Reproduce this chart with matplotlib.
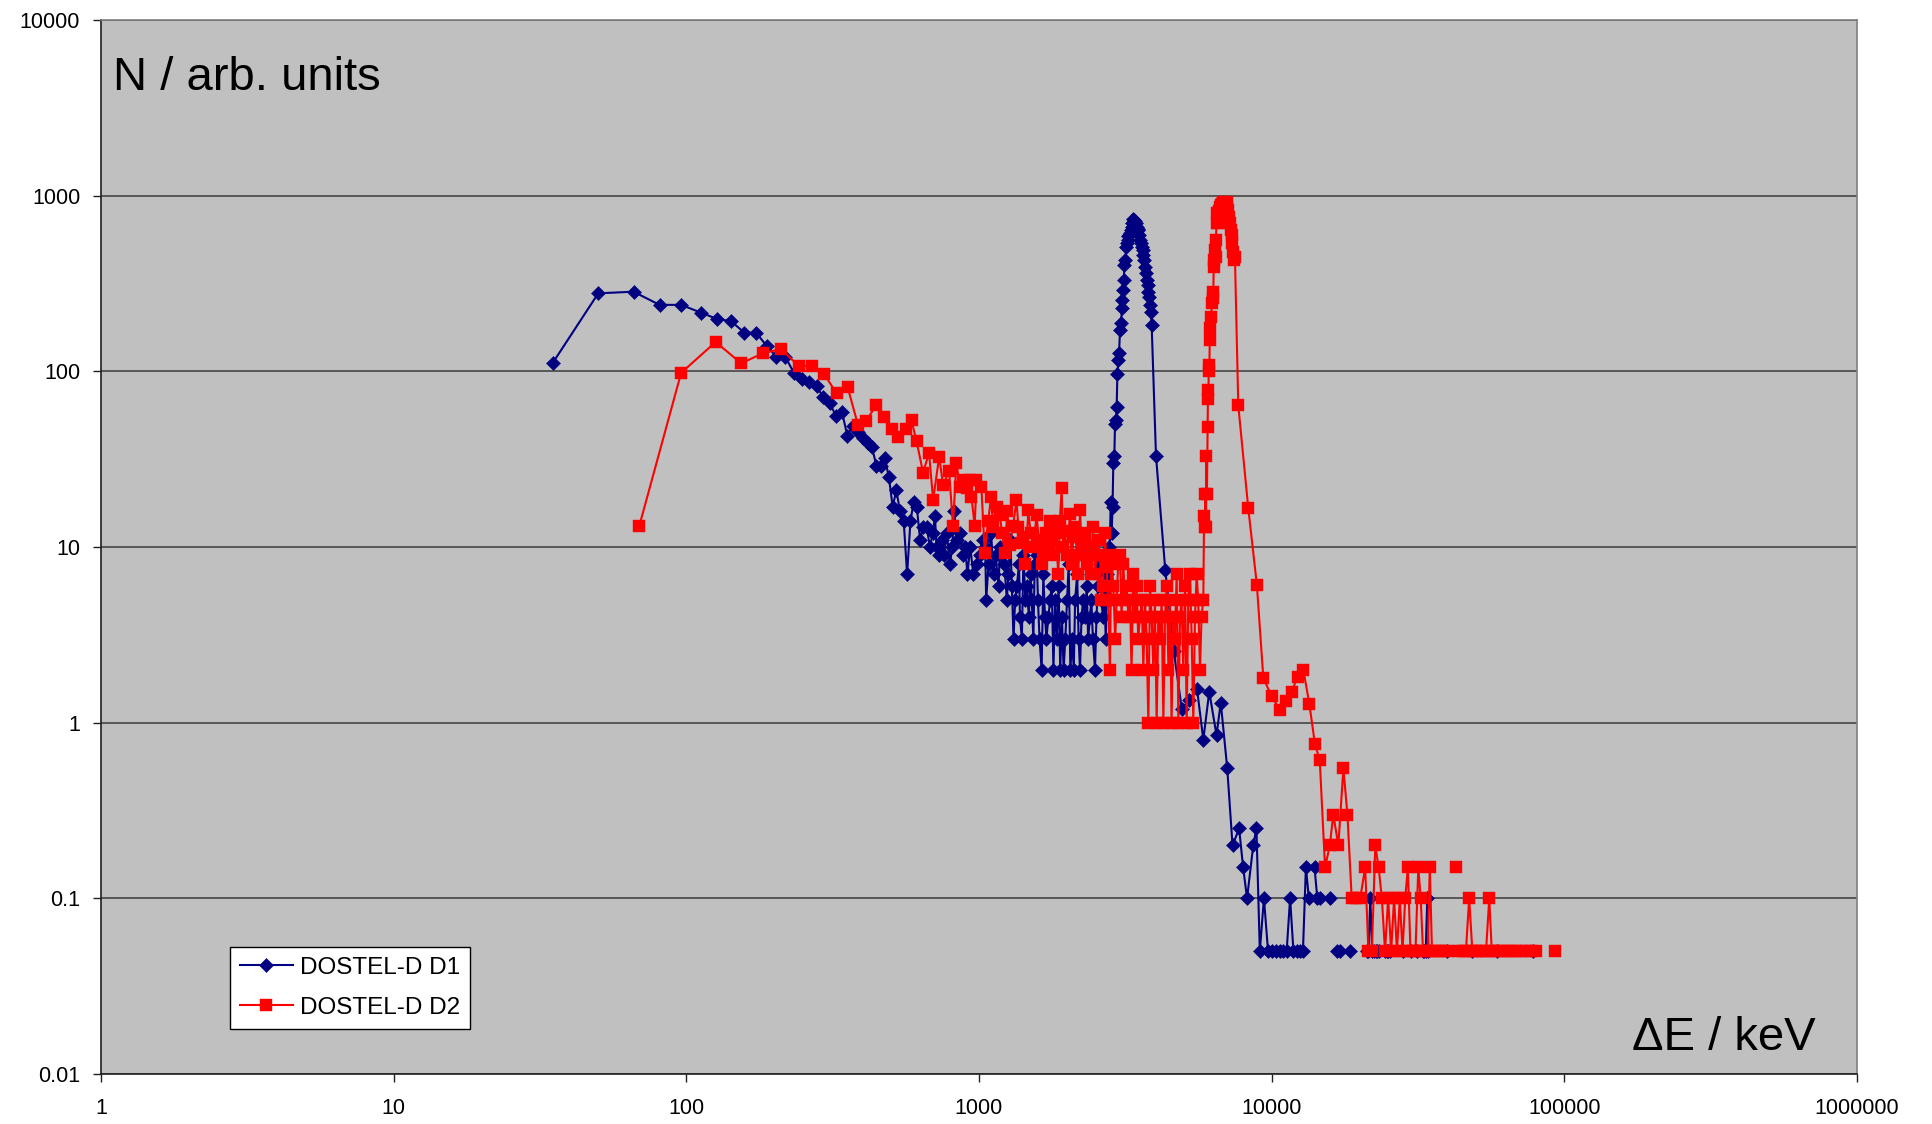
import numpy as np
import matplotlib
matplotlib.use("Agg")
import matplotlib.pyplot as plt
from matplotlib.ticker import NullLocator

plt.rcParams['font.family'] = ['Liberation Sans', 'DejaVu Sans']

# ---------------- data: (energy deposit keV, N arb. units); 0 = empty bin ----------------
d1_low_a = [(35, 112), (50, 278), (66, 284), (81, 239), (96, 239), (112, 216), (127, 199), (142, 193),
            (158, 166), (173, 166), (188, 140), (203, 121), (218, 121), (233, 98), (248, 91), (263, 87),
            (279, 82), (294, 71), (309, 66), (324, 56), (340, 59), (355, 43), (370, 49), (385, 45),
            (401, 42), (416, 39), (431, 37), (446, 29), (461, 29), (477, 32), (492, 25), (507, 17),
            (522, 21), (537, 16), (553, 14), (568, 7), (583, 14), (598, 18), (613, 17), (629, 11)]
d1_low_b = [(645, 13), (662, 13), (680, 10), (695, 12), (707, 15), (716, 10), (731, 9), (745, 11),
            (760, 9), (776, 12), (796, 8), (810, 10), (822, 16), (842, 11), (862, 12), (880, 9),
            (897, 10), (913, 7), (933, 10), (957, 7), (983, 8), (1009, 9), (1030, 11), (1050, 10),
            (1058, 5), (1078, 8), (1100, 12), (1121, 7), (1140, 9), (1166, 6), (1180, 10), (1197, 9),
            (1220, 8), (1245, 5), (1260, 7), (1280, 11), (1295, 6), (1312, 3), (1329, 5), (1347, 6),
            (1370, 8), (1380, 4), (1401, 3), (1419, 9), (1440, 5), (1457, 6), (1480, 4), (1500, 7),
            (1514, 5), (1534, 3), (1550, 8), (1575, 9), (1590, 5), (1610, 3), (1637, 2), (1659, 7),
            (1681, 4), (1700, 3), (1726, 4), (1750, 5), (1773, 6), (1796, 2), (1820, 5), (1845, 3),
            (1870, 6), (1895, 2), (1920, 4), (1946, 2), (1972, 3), (2000, 5), (2025, 8), (2052, 2),
            (2080, 3), (2108, 2), (2130, 5), (2165, 7), (2190, 3), (2214, 2), (2240, 4), (2270, 5),
            (2303, 4), (2334, 6), (2360, 3), (2396, 4), (2420, 5), (2450, 3), (2491, 2), (2520, 4),
            (2550, 6), (2590, 8), (2620, 5), (2650, 4), (2680, 6), (2710, 3), (2740, 7), (2770, 5)]
d1_peak = [(2790, 10), (2805, 12), (2818, 18), (2841, 12), (2860, 17), (2877, 30), (2900, 33),
           (2916, 50), (2939, 53), (2954, 63), (2970, 96), (2993, 116), (3010, 128), (3033, 172),
           (3060, 188), (3075, 230), (3089, 255), (3113, 290), (3125, 331), (3139, 403), (3165, 430),
           (3180, 512), (3196, 535), (3220, 560), (3239, 590), (3260, 600), (3281, 611), (3300, 640),
           (3324, 667), (3345, 700), (3368, 735), (3390, 730), (3412, 720), (3435, 700), (3458, 667),
           (3480, 650), (3503, 640), (3525, 600), (3549, 560), (3573, 540), (3597, 513), (3620, 490),
           (3644, 459), (3668, 430), (3692, 395), (3716, 365), (3741, 331), (3765, 310), (3790, 284),
           (3815, 265), (3840, 239), (3865, 219), (3890, 184)]
d1_high = [(4025, 33), (4330, 7.4), (4630, 2.55), (4930, 1.2), (5230, 1.35), (5560, 1.55), (5840, 0.8),
           (6120, 1.5), (6480, 0.85), (6700, 1.3), (7050, 0.55), (7350, 0.2), (7740, 0.25), (7990, 0.15),
           (8240, 0.1), (8650, 0.2), (8870, 0.25), (9110, 0.05), (9410, 0.1), (9720, 0.05), (10030, 0.05),
           (10330, 0.05), (10640, 0.05), (10950, 0.05), (11250, 0.05), (11560, 0.1), (11870, 0.05),
           (12170, 0.05), (12480, 0.05), (12790, 0.05), (13090, 0.15), (13400, 0.1), (13700, 0),
           (14010, 0.15), (14320, 0.1), (14620, 0.1), (14930, 0), (15540, 0), (15850, 0.1), (16160, 0),
           (16770, 0.05), (17080, 0.05), (17380, 0), (18520, 0.05), (18820, 0), (20810, 0),
           (21120, 0.05), (21420, 0.05), (21730, 0.1), (22040, 0.05), (22350, 0.05), (22650, 0.05),
           (22960, 0.05), (23270, 0.05), (23580, 0), (24090, 0), (24400, 0.05), (24700, 0.05),
           (25000, 0.05), (25380, 0.05), (25700, 0), (27860, 0), (28170, 0.05), (28470, 0), (29550, 0),
           (29860, 0.05), (30160, 0), (31000, 0), (31300, 0.05), (31600, 0), (32660, 0), (32970, 0.05),
           (33280, 0.05), (33600, 0.05), (34030, 0.1), (34340, 0.05), (34650, 0), (39330, 0),
           (39630, 0.05), (39930, 0), (47920, 0), (48220, 0.05), (48520, 0), (58410, 0), (58710, 0.05),
           (59010, 0), (77640, 0), (77940, 0.05)]

d2_low_a = [(69, 13.1), (96, 98), (126, 147), (154, 111), (183, 127), (211, 134), (242, 107), (269, 107),
            (295, 97), (326, 75), (356, 81), (386, 49.5), (411, 52), (445, 64), (473, 55), (503, 47),
            (527, 42.5), (561, 47), (588, 52.5), (612, 40), (644, 26.5), (675, 34.4), (697, 18.5),
            (731, 32.7), (754, 22.5), (790, 27.2), (815, 13.2), (837, 30.2), (860, 22), (882, 24),
            (910, 21.6), (935, 24), (942, 19.3), (967, 13.2), (980, 24), (1019, 21.9), (1046, 9.3),
            (1074, 14), (1100, 19.3), (1117, 13), (1150, 17), (1177, 15.2), (1200, 12), (1224, 9.2),
            (1250, 16), (1273, 10.2), (1308, 13.2), (1343, 18.5)]
d2_low_b = [(1363, 13), (1390, 10.5), (1410, 11.4), (1440, 8), (1475, 16.3), (1500, 12), (1530, 10),
            (1574, 15.2), (1600, 11), (1637, 8), (1659, 9.4), (1690, 12), (1720, 10), (1748, 14),
            (1780, 11), (1800, 9), (1830, 12), (1866, 7), (1889, 14), (1916, 21.6), (1940, 10),
            (1967, 12.3), (2000, 9), (2046, 15.5), (2075, 8), (2101, 11.4), (2130, 13), (2160, 9),
            (2186, 7), (2214, 16.3), (2240, 10), (2270, 12), (2302, 11.4), (2330, 8), (2360, 9),
            (2394, 10), (2420, 7), (2450, 13), (2491, 7), (2520, 9), (2550, 11), (2591, 9), (2620, 5),
            (2650, 6), (2694, 12), (2730, 7.7), (2760, 5), (2802, 2)]
d2_low_c = [(2830, 9), (2877, 6), (2920, 3), (2954, 5), (2990, 8), (3033, 9), (3070, 4), (3113, 8),
            (3150, 5), (3196, 6), (3240, 4), (3281, 5), (3320, 2), (3368, 7), (3410, 4), (3458, 6),
            (3500, 3), (3549, 4), (3600, 5), (3644, 2), (3690, 5), (3741, 3), (3790, 1), (3840, 6),
            (3890, 4), (3942, 2), (3990, 5), (4046, 1), (4100, 4), (4154, 3), (4210, 5), (4265, 1),
            (4320, 4), (4378, 6), (4440, 2), (4494, 5), (4550, 1), (4613, 4), (4670, 3), (4736, 7),
            (4800, 1), (4862, 4), (4920, 5), (4990, 2), (5060, 6), (5123, 1), (5190, 5), (5259, 7),
            (5330, 3), (5399, 1), (5470, 4), (5543, 7), (5610, 5), (5690, 2), (5760, 4), (5841, 5)]
d2_peak = [(5875, 15), (5905, 13), (5935, 20), (5966, 13), (5980, 33), (6010, 20), (6044, 48), (6060, 78),
           (6075, 70), (6100, 109), (6123, 100), (6152, 176), (6180, 150), (6210, 205), (6250, 244),
           (6280, 284), (6310, 260), (6340, 394), (6368, 430), (6400, 491), (6430, 450), (6451, 560),
           (6480, 696), (6520, 794), (6560, 700), (6600, 820), (6630, 780), (6658, 866), (6700, 880),
           (6740, 900), (6790, 850), (6833, 924), (6880, 910), (6920, 880), (6960, 900), (7015, 920),
           (7060, 850), (7112, 829), (7150, 760), (7200, 696), (7250, 637), (7295, 600), (7340, 535),
           (7390, 480), (7440, 430), (7490, 450)]
d2_high = [(7690, 64), (8320, 16.6), (8900, 6.1), (9365, 1.8), (10000, 1.41), (10680, 1.18), (11190, 1.32),
           (11700, 1.5), (12270, 1.83), (12830, 2.0), (13450, 1.28), (14050, 0.76), (14600, 0.61),
           (15220, 0.15), (15800, 0.2), (16240, 0.3), (16900, 0.2), (17580, 0.55), (18150, 0.3),
           (18770, 0.1), (19400, 0.1), (20070, 0.1), (20870, 0.15), (21400, 0.05), (22000, 0.05),
           (22600, 0.2), (23200, 0.15), (23800, 0.1), (24400, 0.05), (25000, 0.1), (25600, 0.05),
           (26200, 0.1), (26800, 0.05), (27400, 0.1), (28000, 0.05), (28600, 0.1), (29200, 0.15),
           (29800, 0.05), (30400, 0.05), (31000, 0.05), (31700, 0.15), (32300, 0.1), (32900, 0.05),
           (33500, 0.05), (34100, 0.05), (34700, 0.15), (35300, 0.05), (36500, 0.05), (37700, 0.05),
           (38900, 0.05), (40100, 0.05), (41300, 0), (42500, 0.15), (43100, 0), (43700, 0.05),
           (44900, 0.05), (46100, 0.05), (47300, 0.1), (48500, 0.05), (49700, 0.05), (51000, 0.05),
           (52500, 0.05), (54000, 0.05), (55400, 0.1), (56500, 0.05), (58000, 0.05), (60000, 0.05),
           (62000, 0.05), (64000, 0.05), (66000, 0.05), (68500, 0.05), (71000, 0.05), (74000, 0.05),
           (77000, 0.05), (80000, 0.05), (86000, 0), (92600, 0.05)]

series_labels = ["DOSTEL-D D1", "DOSTEL-D D2"]
x_ticks = [1, 10, 100, 1000, 10000, 100000, 1000000]
x_tick_labels = ["1", "10", "100", "1000", "10000", "100000", "1000000"]
y_ticks = [0.01, 0.1, 1, 10, 100, 1000, 10000]
y_tick_labels = ["0.01", "0.1", "1", "10", "100", "1000", "10000"]


def build(*segments):
    pts = [p for seg in segments for p in seg]
    e = np.array([p[0] for p in pts], dtype=float)
    n = np.array([p[1] for p in pts], dtype=float)
    n[n <= 0] = np.nan
    return e, n


e1, n1 = build(d1_low_a, d1_low_b, d1_peak, d1_high)
e2, n2 = build(d2_low_a, d2_low_b, d2_low_c, d2_peak, d2_high)

W, H = 1933, 1124
fig = plt.figure(figsize=(W / 100, H / 100), dpi=100)
fig.patch.set_facecolor('white')
ax = fig.add_axes([101 / W, 50 / H, 1756 / W, 1054 / H])
ax.set_facecolor('#C0C0C0')
ax.set_xscale('log')
ax.set_yscale('log')
ax.set_xlim(1, 1e6)
ax.set_ylim(0.01, 1e4)

ax.set_axisbelow(True)
ax.yaxis.grid(True, color='#3a3a3a', linewidth=1.1)
ax.xaxis.grid(False)

ax.plot(e1, n1, color='#000080', lw=1.5, marker='D', ms=7.0, mfc='#000080', mec='#000080', mew=0.4,
        label=series_labels[0], zorder=3)
ax.plot(e2, n2, color='#FF0000', lw=1.5, marker='s', ms=8.3, mfc='#FF0000', mec='#FF0000', mew=0.3,
        label=series_labels[1], zorder=4)

ax.set_xticks(x_ticks)
ax.set_xticklabels(x_tick_labels)
ax.set_yticks(y_ticks)
ax.set_yticklabels(y_tick_labels)
ax.xaxis.set_minor_locator(NullLocator())
ax.yaxis.set_minor_locator(NullLocator())
ax.tick_params(axis='both', direction='out', length=6, width=1.0, color='#202020', labelsize=15.5)
ax.tick_params(axis='x', pad=11)
ax.tick_params(axis='y', pad=9)

for side in ('left', 'bottom'):
    ax.spines[side].set_color('#202020')
    ax.spines[side].set_linewidth(1.2)
for side in ('top', 'right'):
    ax.spines[side].set_color('#808080')
    ax.spines[side].set_linewidth(1.2)

leg = ax.legend(loc='upper left', bbox_to_anchor=((230 - 101) / 1756, (1074 - 947) / 1054),
                borderaxespad=0, frameon=True, fancybox=False, framealpha=1, edgecolor='black',
                fontsize=17.5, numpoints=1, handlelength=2.2, handletextpad=0.3,
                labelspacing=0.75, borderpad=0.4)
leg.get_frame().set_linewidth(1.0)

fig.text(113 / W, 1 - 90 / H, "N / arb. units", fontsize=34, ha='left', va='baseline')
fig.text(1816 / W, 1 - 1050 / H, "\u0394E / keV", fontsize=34, ha='right', va='baseline')

fig.savefig("out.png", dpi=100, facecolor='white')
